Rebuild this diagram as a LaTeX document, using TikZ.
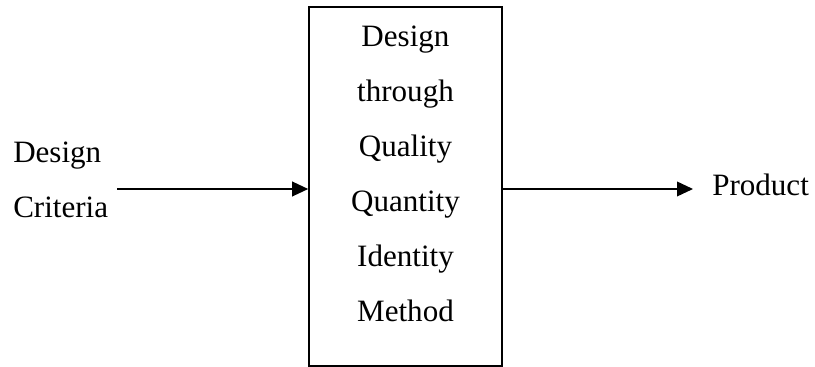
\documentclass[tikz,border=0pt]{standalone}
\usepackage{fontspec}
\setmainfont{Liberation Serif}
\usetikzlibrary{arrows.meta}

\tikzset{
  lbl/.style={inner sep=0pt, align=left, font=\fontsize{23.3}{41.25}\selectfont},
  method/.style={draw, line width=1.2pt, minimum width=193*0.75pt, minimum height=359*0.75pt, inner sep=0pt},
  flow/.style={line width=1.2pt, -{Triangle[length=12pt,width=11pt]}}
}

\begin{document}
\begin{tikzpicture}[x=0.75pt, y=-0.75pt]
   \useasboundingbox (0,0) rectangle (815,367);

   \node[method] (box) at (405.5,186.5) {};
   \node[lbl, align=center] (steps) at (405.5,174) {Design\\through\\Quality\\Quantity\\Identity\\Method};
   \node[lbl, anchor=west] (crit) at (13,180) {Design\\Criteria};
   \node[lbl, anchor=west] (prod) at (712,184.5) {Product};

   \coordinate (in) at (117,189);
   \coordinate (out) at (693,189);

   \draw[flow] (in) -- (box.west |- in);
   \draw[flow] (box.east |- out) -- (out);
\end{tikzpicture}
\end{document}
